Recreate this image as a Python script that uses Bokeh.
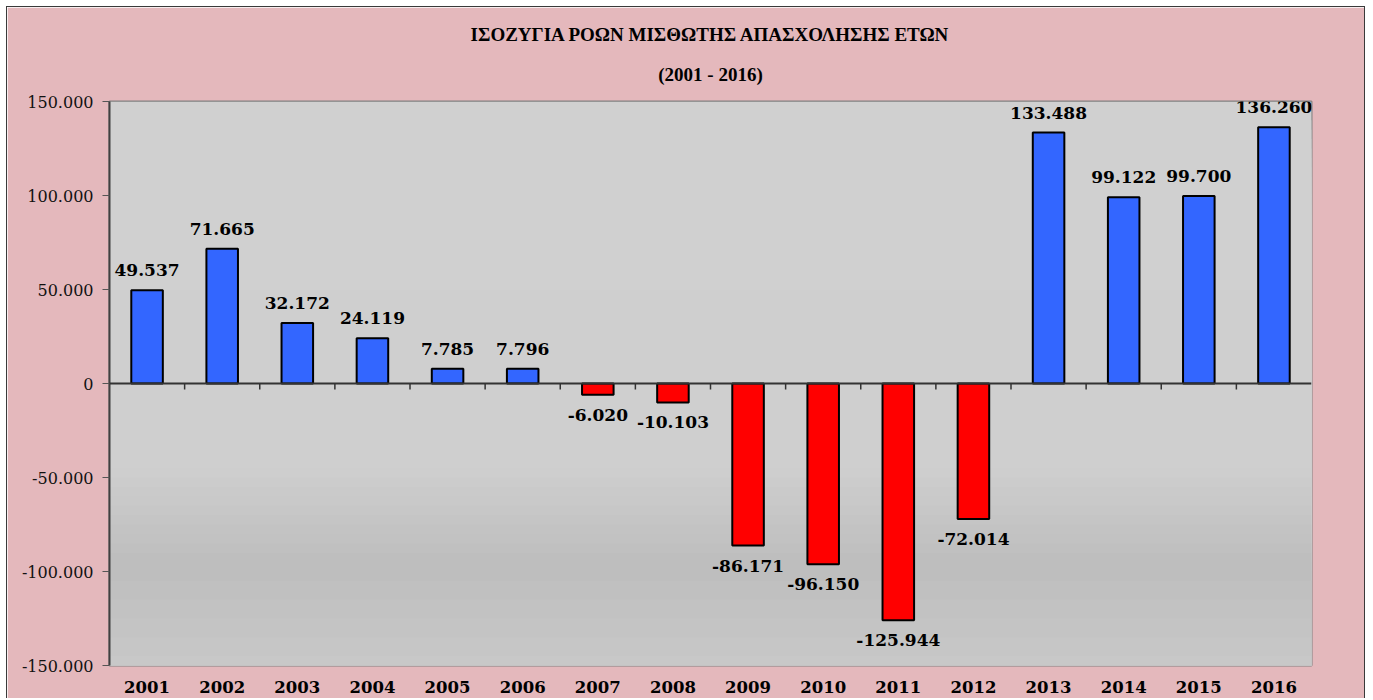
from bokeh.plotting import figure
from bokeh.models import ColumnDataSource, FixedTicker, Span, BoxAnnotation, Range1d, FactorRange, Title
from bokeh.transform import dodge
from bokeh.core.properties import value
from bokeh.embed import file_html
from bokeh.resources import INLINE

years = ["2001", "2002", "2003", "2004", "2005", "2006", "2007", "2008",
         "2009", "2010", "2011", "2012", "2013", "2014", "2015", "2016"]
balance = [49537, 71665, 32172, 24119, 7785, 7796, -6020, -10103,
           -86171, -96150, -125944, -72014, 133488, 99122, 99700, 136260]
y_ticks = [-150000, -100000, -50000, 0, 50000, 100000, 150000]
y_tick_labels = ["-150.000", "-100.000", "-50.000", "0", "50.000", "100.000", "150.000"]
title_main = "ΙΣΟΖΥΓΙΑ ΡΟΩΝ ΜΙΣΘΩΤΗΣ ΑΠΑΣΧΟΛΗΣΗΣ ΕΤΩΝ"
title_sub = "(2001 - 2016)"

def fmt(v):
    s = f"{abs(v):,}".replace(",", ".")
    return ("-" if v < 0 else "") + s

colors = ["#3366ff" if v >= 0 else "#ff0000" for v in balance]
pos = [v if v >= 0 else float("nan") for v in balance]
neg = [v if v < 0 else float("nan") for v in balance]
labels = [fmt(v) for v in balance]

src = ColumnDataSource(dict(x=years, top=balance, color=colors, label=labels, pos=pos, neg=neg))

p = figure(x_range=FactorRange(*years), y_range=Range1d(-150000, 150000),
           width=1359, height=692, output_backend="svg", toolbar_location=None,
           min_border_left=102, min_border_right=55, min_border_top=94, min_border_bottom=34)
p.styles = {"border-left": "1px solid #3a3a3a", "border-top": "1px solid #3a3a3a",
            "border-right": "1px solid #3a3a3a", "margin-left": "6px", "margin-top": "6px"}
p.border_fill_color = "#e4b8bc"
p.background_fill_color = "#d0d0d0"
p.outline_line_color = "#808080"
p.outline_line_width = 2

# gradient-like background (decoration): overlapping bands, each reaching the bottom
stops = [(150000, 208), (-45000, 207), (-95000, 189), (-150000, 200)]
n = 60
for i in range(n):
    y0 = 150000 - i * 300000 / n
    ym = y0 - 150000 / n
    for (a, ca), (b, cb) in zip(stops[:-1], stops[1:]):
        if a >= ym >= b:
            c = int(round(ca + (cb - ca) * (a - ym) / (a - b)))
            break
    hexc = "#%02x%02x%02x" % (c, c, c)
    p.add_layout(BoxAnnotation(top=y0, bottom=-150000, fill_color=hexc, fill_alpha=1.0,
                               line_alpha=0, level="underlay"))

p.xgrid.grid_line_color = None
p.ygrid.ticker = FixedTicker(ticks=y_ticks)
p.ygrid.grid_line_color = "#ebebeb"
p.ygrid.grid_line_width = 2

p.vbar(x="x", top="top", bottom=0, width=0.42, source=src, fill_color="color",
       line_color="black", line_width=2)

p.add_layout(Span(location=0, dimension="width", line_color="#333333", line_width=2))

# category boundary tick marks on the zero line
tick_src = ColumnDataSource(dict(x=years[:-1], y0=[0] * (len(years) - 1), y1=[-3200] * (len(years) - 1)))
p.segment(x0=dodge("x", 0.5, range=p.x_range), x1=dodge("x", 0.5, range=p.x_range),
          y0="y0", y1="y1", source=tick_src, line_color="#333333", line_width=1.5)

p.text(x="x", y="pos", text="label", source=src, text_align="center", text_baseline="middle",
       y_offset=-20, text_font=value("DejaVu Serif"), text_font_style="bold",
       text_font_size="17px", text_color="black")
p.text(x="x", y="neg", text="label", source=src, text_align="center", text_baseline="middle",
       y_offset=20, text_font=value("DejaVu Serif"), text_font_style="bold",
       text_font_size="17px", text_color="black")

p.yaxis.ticker = FixedTicker(ticks=y_ticks)
p.yaxis.major_label_overrides = {t: l for t, l in zip(y_ticks, y_tick_labels)}
p.yaxis.minor_tick_line_color = None
p.yaxis.major_tick_in = 0
p.yaxis.major_tick_out = 7
p.yaxis.major_tick_line_color = "#555555"
p.yaxis.axis_line_color = "#404040"
p.yaxis.axis_line_width = 2
p.yaxis.major_label_text_font = "DejaVu Serif"
p.yaxis.major_label_text_font_size = "16px"
p.yaxis.major_label_text_color = "#111111"
p.yaxis.major_label_standoff = 9

p.xaxis.axis_line_color = None
p.xaxis.major_tick_line_color = None
p.xaxis.minor_tick_line_color = None
p.xaxis.major_label_text_font = "DejaVu Serif"
p.xaxis.major_label_text_font_style = "bold"
p.xaxis.major_label_text_font_size = "16.5px"
p.xaxis.major_label_text_color = "black"
p.xaxis.major_label_standoff = 9

p.add_layout(Title(text=title_sub, align="center", offset=-140, text_font="Liberation Serif",
                   text_font_style="bold", text_font_size="19px", text_color="black",
                   text_line_height=0.9, standoff=34), "above")
p.add_layout(Title(text=title_main, align="center", offset=-140,
                   text_font="Liberation Serif", text_font_style="bold",
                   text_font_size="19px", text_color="black",
                   text_line_height=0.9, standoff=0), "above")

open("out.html", "w").write(file_html(p, INLINE))
